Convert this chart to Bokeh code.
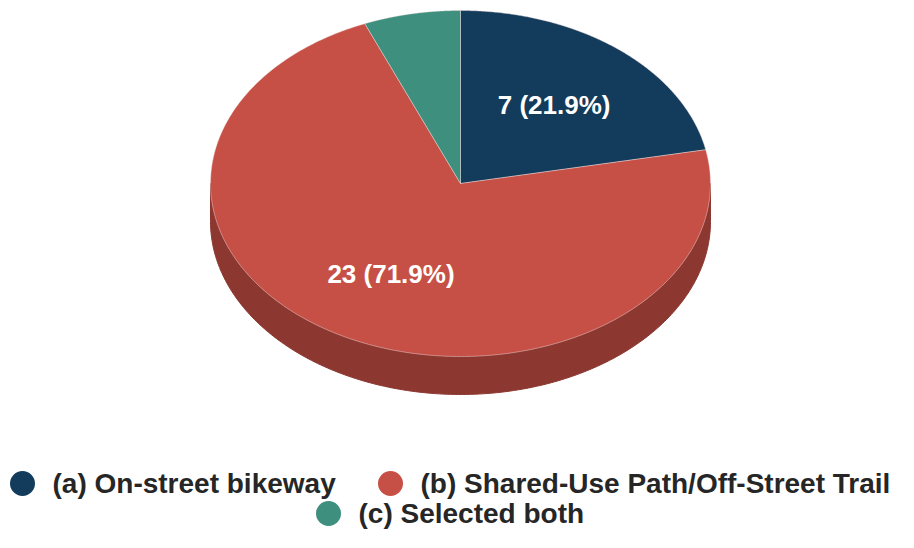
import numpy as np
from bokeh.plotting import figure
from bokeh.models import Range1d
from bokeh.core.properties import value
from bokeh.embed import file_html
from bokeh.resources import INLINE

# ---- data ----
categories = ["(a) On-street bikeway", "(b) Shared-Use Path/Off-Street Trail", "(c) Selected both"]
counts = [7, 23, 2]
colors = ["#133b5c", "#c75046", "#3f8f7f"]
side_colors = ["#0d2a42", "#8c3730", "#2c665b"]

# ---- layout ----
W, H = 898, 532
CX, CY, RX, RY, DEPTH = 460.0, 183.0, 250.0, 173.0, 38.0
LABEL_R = 0.59
FONT = "Liberation Sans"

p = figure(width=W, height=H, output_backend="svg", toolbar_location=None,
           x_range=Range1d(0, W), y_range=Range1d(H, 0),
           min_border=0, outline_line_color=None)
p.axis.visible = False
p.grid.visible = False
p.background_fill_color = "white"
p.border_fill_color = "white"

total = float(sum(counts))
fracs = [c / total for c in counts]
starts = np.cumsum([0.0] + fracs[:-1]) * 360.0
ends = starts + np.array(fracs) * 360.0


def top_xy(a_deg):
    a = np.radians(a_deg)
    return CX + RX * np.sin(a), CY - RY * np.cos(a)


# side walls (front half only: angles 90..270)
sx, sy, sc = [], [], []
for s, e, col in zip(starts, ends, side_colors):
    a0, a1 = max(s, 90.0), min(e, 270.0)
    if a1 <= a0:
        continue
    angs = np.linspace(a0, a1, 200)
    tx, ty = top_xy(angs)
    xs = list(tx) + list(tx[::-1])
    ys = list(ty) + list((ty + DEPTH)[::-1])
    sx.append(xs)
    sy.append(ys)
    sc.append(col)
p.patches(sx, sy, fill_color=sc, line_color=sc, line_width=1)

# top slices
px, py = [], []
for s, e in zip(starts, ends):
    angs = np.linspace(s, e, 300)
    tx, ty = top_xy(angs)
    px.append([CX] + list(tx))
    py.append([CY] + list(ty))
p.patches(px, py, fill_color=colors, line_color="#f4e3e1", line_width=0.6, line_alpha=0.7)

# slice labels
lx, ly, lt = [], [], []
for s, e, c, f in zip(starts, ends, counts, fracs):
    if f < 0.08:
        continue
    m = np.radians((s + e) / 2)
    lx.append(CX + LABEL_R * RX * np.sin(m))
    ly.append(CY - LABEL_R * RY * np.cos(m))
    lt.append(f"{c} ({f * 100:.1f}%)")
p.text(lx, ly, text=lt, text_color="white", text_font=value(FONT), text_font_style="bold",
       text_font_size="26px", text_align="center", text_baseline="middle")

# legend
leg_x = [22, 390, 328]
leg_y = [483, 483, 513]
p.scatter(leg_x, leg_y, size=25, marker="circle", fill_color=colors, line_color=None)
p.text([x + 30 for x in leg_x], leg_y, text=categories, text_color="#262626",
       text_font=value(FONT), text_font_style="bold", text_font_size="28px",
       text_align="left", text_baseline="middle")

open("out.html", "w").write(file_html(p, INLINE))
